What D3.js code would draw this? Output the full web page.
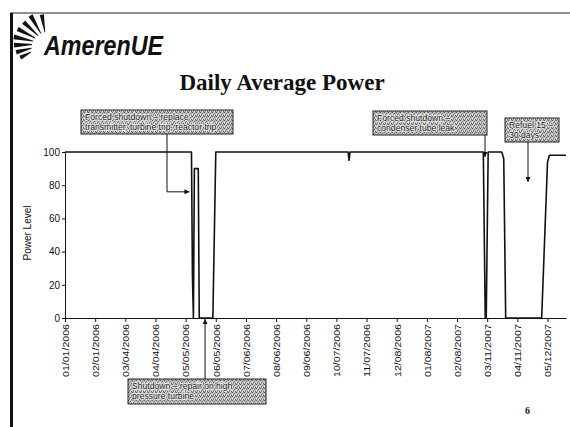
<!DOCTYPE html>
<html>
<head>
<meta charset="utf-8">
<script src="https://cdn.jsdelivr.net/npm/d3@7"></script>
<style>
  html, body { margin: 0; padding: 0; background: #fff; }
  svg { display: block; }
</style>
</head>
<body>
<svg id="chart" width="570" height="427"></svg>
<script>
// ---- data ----
const tickLabels = ["01/01/2006","02/01/2006","03/04/2006","04/04/2006","05/05/2006","06/05/2006",
  "07/06/2006","08/06/2006","09/06/2006","10/07/2006","11/07/2006","12/08/2006",
  "01/08/2007","02/08/2007","03/11/2007","04/11/2007","05/12/2007"];
const yTicks = [0, 20, 40, 60, 80, 100];
const powerDates = ["2006-01-01","2006-05-11","2006-05-12","2006-05-13","2006-05-14","2006-05-18",
  "2006-05-19","2006-06-02","2006-06-05","2006-10-19","2006-10-20","2006-10-21",
  "2007-03-07","2007-03-08","2007-03-09","2007-03-10","2007-03-12","2007-03-26","2007-03-28",
  "2007-03-30","2007-05-06","2007-05-12","2007-05-14","2007-05-31"];
const powerValues = [100,100,25,0,90,90,
  0,0,100,100,95,100,
  100,49,0,0,100,100,96,
  0,0,94,98,98];
const notes = [
  {lines:["Forced shutdown \u2013 replace","transmitter, turbine trip, reactor trip"]},
  {lines:["Shutdown \u2013 repair on high","pressure turbine"]},
  {lines:["Forced shutdown \u2013","condenser tube leak"]},
  {lines:["Refuel 15 \u2013","30 days"]}
];

const svg = d3.select("#chart");
const parse = d3.utcParse("%Y-%m-%d");
const parseTick = d3.utcParse("%m/%d/%Y");

const x = d3.scaleUtc().domain([parse("2006-01-01"), parse("2007-05-31")]).range([65, 566]);
const y = d3.scaleLinear().domain([0, 100]).range([318, 152]);

// defs: stipple pattern + arrowhead
const defs = svg.append("defs");
const pat = defs.append("pattern").attr("id","stip").attr("width",4).attr("height",4)
  .attr("patternUnits","userSpaceOnUse");
pat.append("rect").attr("width",4).attr("height",4).attr("fill","#c4c4c4");
[[0,0,"#555"],[2,1,"#6a6a6a"],[1,2,"#777"],[3,3,"#5e5e5e"],[3,0,"#999"],[1,3,"#888"],[0,2,"#e6e6e6"],[2,3,"#ececec"]]
  .forEach(p => pat.append("rect").attr("x",p[0]).attr("y",p[1]).attr("width",1).attr("height",1).attr("fill",p[2]));
defs.append("marker").attr("id","arr").attr("viewBox","0 0 6 6").attr("refX",6).attr("refY",3)
  .attr("markerWidth",5).attr("markerHeight",5).attr("orient","auto-start-reverse")
  .append("path").attr("d","M0,0 L6,3 L0,6 Z").attr("fill","#111");

// page frame
svg.append("line").attr("x1",10).attr("y1",13).attr("x2",570).attr("y2",13)
  .attr("stroke","#222").attr("stroke-width",1.2);
svg.append("line").attr("x1",11.5).attr("y1",13).attr("x2",11.5).attr("y2",427)
  .attr("stroke","#111").attr("stroke-width",3);

// logo sunburst
const cx = 47, cy = 44;
const rays = [[-100,12,30],[-120,12,33],[-137,12,32],[-153,13,33],[-168,14,34],[-182,15,33],[-195,16,32],[-207,18,30]];
rays.forEach(r => {
  const a = r[0]*Math.PI/180, w = 0.07;
  const p1 = [cx + r[1]*Math.cos(a - w*0.4), cy + r[1]*Math.sin(a - w*0.4)];
  const p2 = [cx + r[2]*Math.cos(a - w), cy + r[2]*Math.sin(a - w)];
  const p3 = [cx + r[2]*Math.cos(a + w), cy + r[2]*Math.sin(a + w)];
  const p4 = [cx + r[1]*Math.cos(a + w*0.4), cy + r[1]*Math.sin(a + w*0.4)];
  svg.append("path").attr("d", `M${p1}L${p2}L${p3}L${p4}Z`).attr("fill","#111");
});
svg.append("text").attr("x",44).attr("y",55)
  .attr("font-family","Liberation Sans, Arial, sans-serif")
  .attr("font-weight","bold").attr("font-style","italic").attr("font-size",28)
  .attr("textLength",119).attr("lengthAdjust","spacingAndGlyphs").attr("fill","#111")
  .text("AmerenUE");

// title
svg.append("text").attr("x",282).attr("y",90).attr("text-anchor","middle")
  .attr("font-family","Liberation Serif, Times New Roman, serif").attr("font-weight","bold")
  .attr("font-size",23).attr("fill","#111").text("Daily Average Power");

// axes
const yAxis = svg.append("g").attr("transform","translate(65,0)")
  .call(d3.axisLeft(y).tickValues(yTicks).tickSize(3).tickPadding(2));
yAxis.select(".domain").attr("stroke","#111");
yAxis.selectAll("line").attr("stroke","#111");
yAxis.selectAll("text").attr("font-family","Liberation Sans Narrow, Arial Narrow, Arial, sans-serif")
  .attr("font-size",10).attr("fill","#111");

const tickDates = tickLabels.map(parseTick);
const xAxis = svg.append("g").attr("transform","translate(0,318)")
  .call(d3.axisBottom(x).tickValues(tickDates).tickSize(4).tickSizeOuter(0)
    .tickFormat((d,i) => tickLabels[i]));
xAxis.select(".domain").attr("stroke","#111");
xAxis.selectAll("line").attr("stroke","#111");
xAxis.selectAll("text")
  .attr("font-family","Liberation Sans Narrow, Arial Narrow, Arial, sans-serif")
  .attr("font-size",9.5).attr("fill","#111")
  .attr("text-anchor","end").attr("transform","rotate(-90)")
  .attr("x",-6).attr("y",0).attr("dy","0.35em")
  .attr("textLength",53).attr("lengthAdjust","spacingAndGlyphs");

svg.append("text").attr("transform","translate(31,233) rotate(-90)").attr("text-anchor","middle")
  .attr("font-family","Liberation Sans Narrow, Arial Narrow, Arial, sans-serif")
  .attr("font-size",10).attr("fill","#111").text("Power Level");

// line
const series = powerDates.map((d,i) => ({date: parse(d), value: powerValues[i]}));
svg.append("path").datum(series)
  .attr("fill","none").attr("stroke","#111").attr("stroke-width",1.6).attr("stroke-linejoin","round")
  .attr("d", d3.line().x(d => x(d.date)).y(d => y(d.value)));

// annotation boxes
function box(n, bx, by, bw, bh) {
  const g = svg.append("g");
  g.append("rect").attr("x",bx).attr("y",by).attr("width",bw).attr("height",bh)
    .attr("fill","url(#stip)").attr("stroke","#222").attr("stroke-width",1);
  n.lines.forEach((t,i) => {
    g.append("text").attr("x",bx+4).attr("y",by+10+i*9.5)
      .attr("font-family","Liberation Sans, Arial, sans-serif").attr("font-size",8.6)
      .attr("fill","#111").attr("stroke","#f2f2f2").attr("stroke-width",1.4)
      .attr("paint-order","stroke").text(t);
  });
}
box(notes[0], 81, 110, 152, 24);
box(notes[1], 128, 379, 138, 25);
box(notes[2], 373, 111, 114, 24);
box(notes[3], 505, 118, 54, 24);

// leaders
const ld = (d) => svg.append("path").attr("d",d).attr("fill","none").attr("stroke","#111")
  .attr("stroke-width",1).attr("marker-end","url(#arr)");
ld(`M167,134 L167,${y(76)} L${x(parse("2006-05-11"))-2},${y(76)}`);
ld(`M${x(parse("2006-05-25"))},379 L${x(parse("2006-05-25"))},${y(0)+1}`);
ld(`M485,135 L485,${y(97)}`);
ld(`M528,142 L528,${y(82)}`);

// page number
svg.append("text").attr("x",525).attr("y",414).attr("font-family","Liberation Serif, serif")
  .attr("font-weight","bold").attr("font-size",10).attr("fill","#111").text("6");
</script>
</body>
</html>
